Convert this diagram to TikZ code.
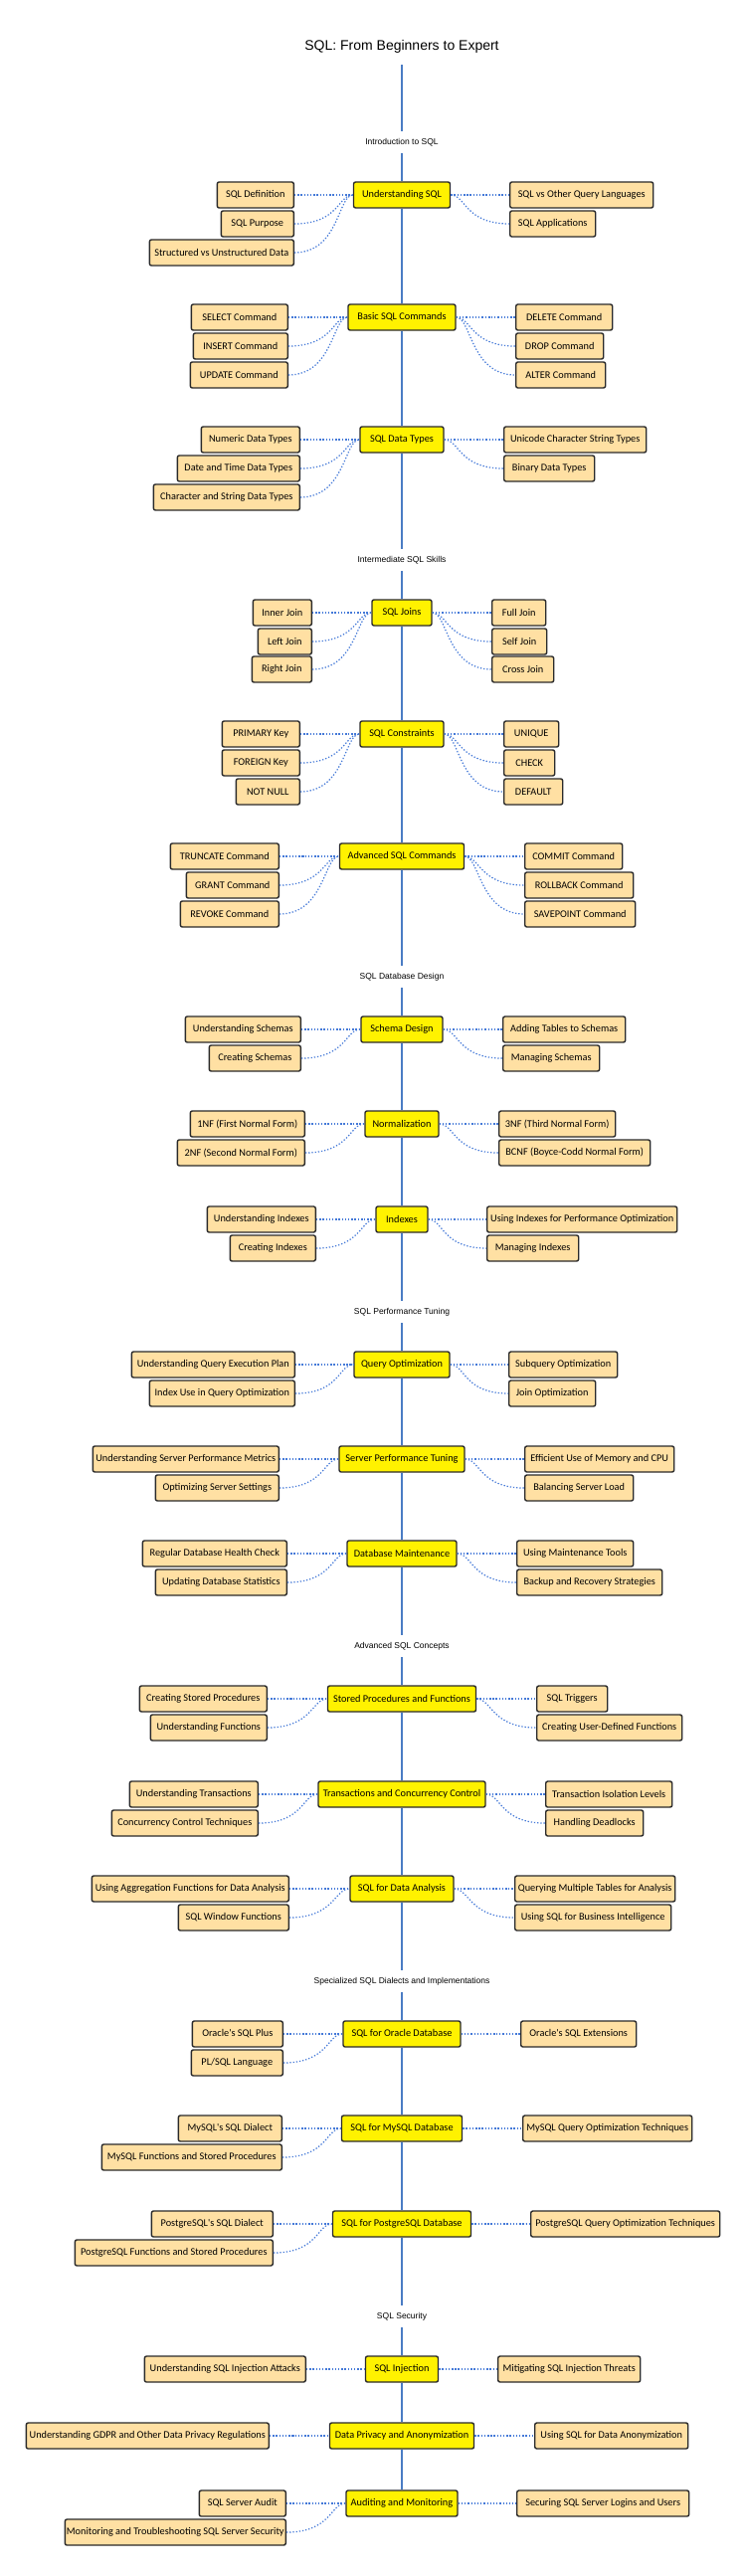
\documentclass[tikz,border=0pt]{standalone}
\usepackage{fontspec}
\setmainfont{Liberation Sans}
\newfontfamily\boxfont{Carlito}
\definecolor{childfill}{HTML}{FFE0A3}
\definecolor{boxline}{HTML}{2A2A2A}
\definecolor{spineblue}{HTML}{4A7CC4}
\definecolor{dotblue}{HTML}{4479D8}
\tikzset{
  child/.style={draw=boxline, fill=childfill, rounded corners=2pt, line width=1.4pt,
    minimum height=26pt, inner xsep=1pt, inner ysep=0pt,
    font=\boxfont\fontsize{10.3}{12}\selectfont, text=black},
  hub/.style={child, fill=yellow},
  conn/.style={draw=dotblue, line width=1.2pt, dash pattern=on 1.3pt off 1.9pt},
  spine/.style={draw=spineblue, line width=1.5pt},
  sectlabel/.style={font=\fontsize{8.5}{10}\selectfont, text=black, minimum height=22pt, inner sep=0pt},
  titlelabel/.style={font=\fontsize{14}{16}\selectfont, text=black, minimum height=36pt, inner sep=0pt}
}
\newcommand\lc[2]{\draw[conn] (#1.east) .. controls +(45,0) and +(-15,0) .. (#2.west);}
\newcommand\rc[2]{\draw[conn] (#1.east) .. controls +(15,0) and +(-45,0) .. (#2.west);}
\begin{document}
\begin{tikzpicture}[x=1pt,y=-1pt]
\fill[white] (0,0) rectangle (750,2590);
\useasboundingbox (0,0) rectangle (750,2590);

\node[titlelabel] (title) at (404,47) {SQL: From Beginners to Expert};

% ---------- Section 1
\node[sectlabel] (lab1) at (404,143) {Introduction to SQL};

\node[hub, minimum width=97] (g1) at (404,196) {Understanding SQL};
\node[child, anchor=east, minimum width=77] (g1a) at (296,196) {SQL Definition};
\node[child, anchor=east, minimum width=73] (g1b) at (296,225) {SQL Purpose};
\node[child, anchor=east, minimum width=145] (g1c) at (296,254) {Structured vs Unstructured Data};
\node[child, anchor=west, minimum width=144] (g1d) at (512,196) {SQL vs Other Query Languages};
\node[child, anchor=west, minimum width=86] (g1e) at (512,225) {SQL Applications};

\node[hub, minimum width=108] (g2) at (404,319) {Basic SQL Commands};
\node[child, anchor=east, minimum width=97] (g2a) at (290,319) {SELECT Command};
\node[child, anchor=east, minimum width=95] (g2b) at (290,348) {INSERT Command};
\node[child, anchor=east, minimum width=98] (g2c) at (290,377) {UPDATE Command};
\node[child, anchor=west, minimum width=97] (g2d) at (518,319) {DELETE Command};
\node[child, anchor=west, minimum width=88] (g2e) at (518,348) {DROP Command};
\node[child, anchor=west, minimum width=90] (g2f) at (518,377) {ALTER Command};

\node[hub, minimum width=84] (g3) at (404,442) {SQL Data Types};
\node[child, anchor=east, minimum width=99] (g3a) at (302,442) {Numeric Data Types};
\node[child, anchor=east, minimum width=123] (g3b) at (302,471) {Date and Time Data Types};
\node[child, anchor=east, minimum width=147] (g3c) at (302,500) {Character and String Data Types};
\node[child, anchor=west, minimum width=143] (g3d) at (506,442) {Unicode Character String Types};
\node[child, anchor=west, minimum width=91] (g3e) at (506,471) {Binary Data Types};

% ---------- Section 2
\node[sectlabel] (lab2) at (404,563) {Intermediate SQL Skills};

\node[hub, minimum width=60] (g4) at (404,616) {SQL Joins};
\node[child, anchor=east, minimum width=59] (g4a) at (314,616) {Inner Join};
\node[child, anchor=east, minimum width=54] (g4b) at (314,645) {Left Join};
\node[child, anchor=east, minimum width=60] (g4c) at (314,673) {Right Join};
\node[child, anchor=west, minimum width=54] (g4d) at (494,616) {Full Join};
\node[child, anchor=west, minimum width=55] (g4e) at (494,645) {Self Join};
\node[child, anchor=west, minimum width=62] (g4f) at (494,673) {Cross Join};

\node[hub, minimum width=84] (g5) at (404,738) {SQL Constraints};
\node[child, anchor=east, minimum width=78] (g5a) at (302,738) {PRIMARY Key};
\node[child, anchor=east, minimum width=78] (g5b) at (302,767) {FOREIGN Key};
\node[child, anchor=east, minimum width=64] (g5c) at (302,796) {NOT NULL};
\node[child, anchor=west, minimum width=55] (g5d) at (506,738) {UNIQUE};
\node[child, anchor=west, minimum width=51] (g5e) at (506,767) {CHECK};
\node[child, anchor=west, minimum width=59] (g5f) at (506,796) {DEFAULT};

\node[hub, minimum width=125] (g6) at (404,861) {Advanced SQL Commands};
\node[child, anchor=east, minimum width=109] (g6a) at (281,861) {TRUNCATE Command};
\node[child, anchor=east, minimum width=93] (g6b) at (281,890) {GRANT Command};
\node[child, anchor=east, minimum width=99] (g6c) at (281,919) {REVOKE Command};
\node[child, anchor=west, minimum width=98] (g6d) at (527,861) {COMMIT Command};
\node[child, anchor=west, minimum width=109] (g6e) at (527,890) {ROLLBACK Command};
\node[child, anchor=west, minimum width=111] (g6f) at (527,919) {SAVEPOINT Command};

% ---------- Section 3
\node[sectlabel] (lab3) at (404,982) {SQL Database Design};

\node[hub, minimum width=82] (g7) at (404,1035) {Schema Design};
\node[child, anchor=east, minimum width=116] (g7a) at (303,1035) {Understanding Schemas};
\node[child, anchor=east, minimum width=92] (g7b) at (303,1064) {Creating Schemas};
\node[child, anchor=west, minimum width=123] (g7c) at (505,1035) {Adding Tables to Schemas};
\node[child, anchor=west, minimum width=97] (g7d) at (505,1064) {Managing Schemas};

\node[hub, minimum width=74] (g8) at (404,1130) {Normalization};
\node[child, anchor=east, minimum width=115] (g8a) at (307,1130) {1NF (First Normal Form)};
\node[child, anchor=east, minimum width=128] (g8b) at (307,1159) {2NF (Second Normal Form)};
\node[child, anchor=west, minimum width=117] (g8c) at (501,1130) {3NF (Third Normal Form)};
\node[child, anchor=west, minimum width=152] (g8d) at (501,1159) {BCNF (Boyce-Codd Normal Form)};

\node[hub, minimum width=52] (g9) at (404,1226) {Indexes};
\node[child, anchor=east, minimum width=109] (g9a) at (318,1226) {Understanding Indexes};
\node[child, anchor=east, minimum width=86] (g9b) at (318,1255) {Creating Indexes};
\node[child, anchor=west, minimum width=191] (g9c) at (489,1226) {Using Indexes for Performance Optimization};
\node[child, anchor=west, minimum width=92] (g9d) at (489,1255) {Managing Indexes};

% ---------- Section 4
\node[sectlabel] (lab4) at (404,1319) {SQL Performance Tuning};

\node[hub, minimum width=96] (g10) at (404,1372) {Query Optimization};
\node[child, anchor=east, minimum width=164] (g10a) at (297,1372) {Understanding Query Execution Plan};
\node[child, anchor=east, minimum width=146] (g10b) at (297,1401) {Index Use in Query Optimization};
\node[child, anchor=west, minimum width=109] (g10c) at (511,1372) {Subquery Optimization};
\node[child, anchor=west, minimum width=87] (g10d) at (511,1401) {Join Optimization};

\node[hub, minimum width=126] (g11) at (404,1467) {Server Performance Tuning};
\node[child, anchor=east, minimum width=187] (g11a) at (281,1467) {Understanding Server Performance Metrics};
\node[child, anchor=east, minimum width=124] (g11b) at (281,1496) {Optimizing Server Settings};
\node[child, anchor=west, minimum width=150] (g11c) at (527,1467) {Efficient Use of Memory and CPU};
\node[child, anchor=west, minimum width=109] (g11d) at (527,1496) {Balancing Server Load};

\node[hub, minimum width=110] (g12) at (404,1562) {Database Maintenance};
\node[child, anchor=east, minimum width=145] (g12a) at (289,1562) {Regular Database Health Check};
\node[child, anchor=east, minimum width=132] (g12b) at (289,1591) {Updating Database Statistics};
\node[child, anchor=west, minimum width=117] (g12c) at (519,1562) {Using Maintenance Tools};
\node[child, anchor=west, minimum width=146] (g12d) at (519,1591) {Backup and Recovery Strategies};

% ---------- Section 5
\node[sectlabel] (lab5) at (404,1655) {Advanced SQL Concepts};

\node[hub, minimum width=149] (g13) at (404,1708) {Stored Procedures and Functions};
\node[child, anchor=east, minimum width=128] (g13a) at (269,1708) {Creating Stored Procedures};
\node[child, anchor=east, minimum width=117] (g13b) at (269,1737) {Understanding Functions};
\node[child, anchor=west, minimum width=71] (g13c) at (539,1708) {SQL Triggers};
\node[child, anchor=west, minimum width=146] (g13d) at (539,1737) {Creating User-Defined Functions};

\node[hub, minimum width=168] (g14) at (404,1804) {Transactions and Concurrency Control};
\node[child, anchor=east, minimum width=129] (g14a) at (260,1804) {Understanding Transactions};
\node[child, anchor=east, minimum width=147] (g14b) at (260,1833) {Concurrency Control Techniques};
\node[child, anchor=west, minimum width=127] (g14c) at (548,1804) {Transaction Isolation Levels};
\node[child, anchor=west, minimum width=98] (g14d) at (548,1833) {Handling Deadlocks};

\node[hub, minimum width=104] (g15) at (404,1899) {SQL for Data Analysis};
\node[child, anchor=east, minimum width=198] (g15a) at (291,1899) {Using Aggregation Functions for Data Analysis};
\node[child, anchor=east, minimum width=111] (g15b) at (291,1928) {SQL Window Functions};
\node[child, anchor=west, minimum width=161] (g15c) at (517,1899) {Querying Multiple Tables for Analysis};
\node[child, anchor=west, minimum width=157] (g15d) at (517,1928) {Using SQL for Business Intelligence};

% ---------- Section 6
\node[sectlabel] (lab6) at (404,1992) {Specialized SQL Dialects and Implementations};

\node[hub, minimum width=118] (g16) at (404,2045) {SQL for Oracle Database};
\node[child, anchor=east, minimum width=91] (g16a) at (285,2045) {Oracle's SQL Plus};
\node[child, anchor=east, minimum width=92] (g16b) at (285,2074) {PL/SQL Language};
\node[child, anchor=west, minimum width=116] (g16c) at (523,2045) {Oracle's SQL Extensions};

\node[hub, minimum width=121] (g17) at (404,2140) {SQL for MySQL Database};
\node[child, anchor=east, minimum width=104] (g17a) at (284,2140) {MySQL's SQL Dialect};
\node[child, anchor=east, minimum width=181] (g17b) at (284,2169) {MySQL Functions and Stored Procedures};
\node[child, anchor=west, minimum width=170] (g17c) at (525,2140) {MySQL Query Optimization Techniques};

\node[hub, minimum width=139] (g18) at (404,2236) {SQL for PostgreSQL Database};
\node[child, anchor=east, minimum width=122] (g18a) at (275,2236) {PostgreSQL's SQL Dialect};
\node[child, anchor=east, minimum width=199] (g18b) at (275,2265) {PostgreSQL Functions and Stored Procedures};
\node[child, anchor=west, minimum width=190] (g18c) at (533,2236) {PostgreSQL Query Optimization Techniques};

% ---------- Section 7
\node[sectlabel] (lab7) at (404,2329) {SQL Security};

\node[hub, minimum width=73] (g19) at (404,2382) {SQL Injection};
\node[child, anchor=east, minimum width=162] (g19a) at (308,2382) {Understanding SQL Injection Attacks};
\node[child, anchor=west, minimum width=143] (g19b) at (500,2382) {Mitigating SQL Injection Threats};

\node[hub, minimum width=145] (g20) at (404,2449) {Data Privacy and Anonymization};
\node[child, anchor=east, minimum width=244] (g20a) at (271,2449) {Understanding GDPR and Other Data Privacy Regulations};
\node[child, anchor=west, minimum width=154] (g20b) at (537,2449) {Using SQL for Data Anonymization};

\node[hub, minimum width=112] (g21) at (404,2517) {Auditing and Monitoring};
\node[child, anchor=east, minimum width=87] (g21a) at (288,2517) {SQL Server Audit};
\node[child, anchor=east, minimum width=222] (g21b) at (288,2546) {Monitoring and Troubleshooting SQL Server Security};
\node[child, anchor=west, minimum width=173] (g21c) at (519,2517) {Securing SQL Server Logins and Users};

% ---------- spine
\draw[spine] (title) -- (lab1);
\draw[spine] (lab1) -- (g1) -- (g2) -- (g3) -- (lab2);
\draw[spine] (lab2) -- (g4) -- (g5) -- (g6) -- (lab3);
\draw[spine] (lab3) -- (g7) -- (g8) -- (g9) -- (lab4);
\draw[spine] (lab4) -- (g10) -- (g11) -- (g12) -- (lab5);
\draw[spine] (lab5) -- (g13) -- (g14) -- (g15) -- (lab6);
\draw[spine] (lab6) -- (g16) -- (g17) -- (g18) -- (lab7);
\draw[spine] (lab7) -- (g19) -- (g20) -- (g21);

% ---------- connectors
\lc{g1a}{g1}\lc{g1b}{g1}\lc{g1c}{g1}\rc{g1}{g1d}\rc{g1}{g1e}
\lc{g2a}{g2}\lc{g2b}{g2}\lc{g2c}{g2}\rc{g2}{g2d}\rc{g2}{g2e}\rc{g2}{g2f}
\lc{g3a}{g3}\lc{g3b}{g3}\lc{g3c}{g3}\rc{g3}{g3d}\rc{g3}{g3e}
\lc{g4a}{g4}\lc{g4b}{g4}\lc{g4c}{g4}\rc{g4}{g4d}\rc{g4}{g4e}\rc{g4}{g4f}
\lc{g5a}{g5}\lc{g5b}{g5}\lc{g5c}{g5}\rc{g5}{g5d}\rc{g5}{g5e}\rc{g5}{g5f}
\lc{g6a}{g6}\lc{g6b}{g6}\lc{g6c}{g6}\rc{g6}{g6d}\rc{g6}{g6e}\rc{g6}{g6f}
\lc{g7a}{g7}\lc{g7b}{g7}\rc{g7}{g7c}\rc{g7}{g7d}
\lc{g8a}{g8}\lc{g8b}{g8}\rc{g8}{g8c}\rc{g8}{g8d}
\lc{g9a}{g9}\lc{g9b}{g9}\rc{g9}{g9c}\rc{g9}{g9d}
\lc{g10a}{g10}\lc{g10b}{g10}\rc{g10}{g10c}\rc{g10}{g10d}
\lc{g11a}{g11}\lc{g11b}{g11}\rc{g11}{g11c}\rc{g11}{g11d}
\lc{g12a}{g12}\lc{g12b}{g12}\rc{g12}{g12c}\rc{g12}{g12d}
\lc{g13a}{g13}\lc{g13b}{g13}\rc{g13}{g13c}\rc{g13}{g13d}
\lc{g14a}{g14}\lc{g14b}{g14}\rc{g14}{g14c}\rc{g14}{g14d}
\lc{g15a}{g15}\lc{g15b}{g15}\rc{g15}{g15c}\rc{g15}{g15d}
\lc{g16a}{g16}\lc{g16b}{g16}\rc{g16}{g16c}
\lc{g17a}{g17}\lc{g17b}{g17}\rc{g17}{g17c}
\lc{g18a}{g18}\lc{g18b}{g18}\rc{g18}{g18c}
\lc{g19a}{g19}\rc{g19}{g19b}
\lc{g20a}{g20}\rc{g20}{g20b}
\lc{g21a}{g21}\lc{g21b}{g21}\rc{g21}{g21c}
\end{tikzpicture}
\end{document}
